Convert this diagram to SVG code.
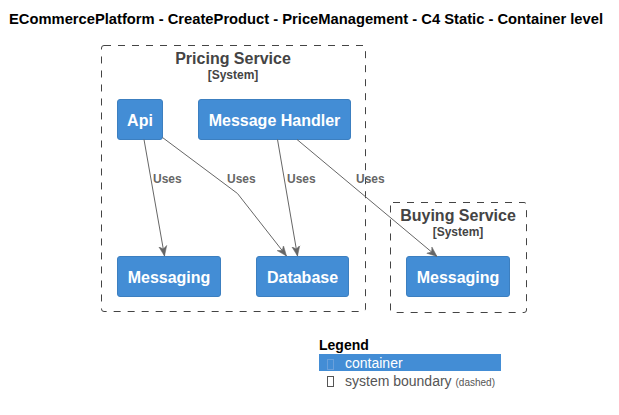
<svg xmlns="http://www.w3.org/2000/svg" width="619" height="415" viewBox="0 0 619 415">
<defs>
<style>
.title{font-family:"Liberation Sans",Arial,sans-serif;font-weight:bold;font-size:14px;fill:#000}
.bnd{fill:none;stroke:#444;stroke-width:1;stroke-dasharray:7,7}
.bname{font-family:"Liberation Sans",Arial,sans-serif;font-weight:bold;font-size:16px;fill:#444;text-anchor:middle}
.btype{font-family:"Liberation Sans",Arial,sans-serif;font-weight:bold;font-size:12px;fill:#444;text-anchor:middle}
.box{fill:#438DD5;stroke:#3C7FC0;stroke-width:1}
.bt{font-family:"Liberation Sans",Arial,sans-serif;font-weight:bold;font-size:16px;fill:#fff;text-anchor:middle}
.ln{fill:none;stroke:#666;stroke-width:1}
.lbl{font-family:"Liberation Sans",Arial,sans-serif;font-weight:bold;font-size:12px;fill:#666}
.lg{font-family:"Liberation Sans",Arial,sans-serif;font-size:14px}
</style>
<marker id="ah" viewBox="0 0 10 10" refX="10" refY="5" markerWidth="10" markerHeight="10" markerUnits="userSpaceOnUse" orient="auto">
<path d="M0,1 L10,5 L0,9 L3,5 Z" fill="#666" stroke="#666" stroke-width="0.5"/>
</marker>
</defs>
<rect width="619" height="415" fill="#fff"/>
<text class="title" x="9" y="24" textLength="594" lengthAdjust="spacingAndGlyphs">ECommercePlatform - CreateProduct - PriceManagement - C4 Static - Container level</text>

<g id="pricing-service">
<rect class="bnd" x="101.5" y="45.5" width="264" height="266" rx="2.5"/>
<text class="bname" x="233" y="64">Pricing Service</text>
<text class="btype" x="233" y="79">[System]</text>
</g>
<g id="buying-service">
<rect class="bnd" x="390.5" y="202.5" width="136" height="110" rx="2.5"/>
<text class="bname" x="458" y="221">Buying Service</text>
<text class="btype" x="458" y="236">[System]</text>
</g>

<g id="api">
<rect class="box" x="117.5" y="99.5" width="45" height="40" rx="2.5"/>
<text class="bt" x="140" y="126">Api</text>
</g>
<g id="message-handler">
<rect class="box" x="198.5" y="99.5" width="152" height="40" rx="2.5"/>
<text class="bt" x="274.5" y="126">Message Handler</text>
</g>
<g id="pricing-messaging">
<rect class="box" x="117.5" y="256.5" width="103" height="40" rx="2.5"/>
<text class="bt" x="169" y="283">Messaging</text>
</g>
<g id="database">
<rect class="box" x="256.5" y="256.5" width="92" height="40" rx="2.5"/>
<text class="bt" x="302.5" y="283">Database</text>
</g>
<g id="buying-messaging">
<rect class="box" x="406.5" y="256.5" width="103" height="40" rx="2.5"/>
<text class="bt" x="458" y="283">Messaging</text>
</g>

<g id="connectors">
<path class="ln" d="M144,139.5 L164.5,256" marker-end="url(#ah)"/>
<path class="ln" d="M162.5,137.5 L237.5,193.5 L286.5,256" marker-end="url(#ah)"/>
<path class="ln" d="M277.5,139.5 L297.5,256" marker-end="url(#ah)"/>
<path class="ln" d="M297,139.5 L437,256.5" marker-end="url(#ah)"/>
<text class="lbl" x="153" y="183">Uses</text>
<text class="lbl" x="227" y="183">Uses</text>
<text class="lbl" x="287" y="183">Uses</text>
<text class="lbl" x="356" y="183">Uses</text>
</g>

<g id="legend">
<text class="lg" x="319" y="350" font-weight="bold" fill="#000">Legend</text>
<rect x="319" y="354" width="182" height="17" fill="#438DD5"/>
<rect x="327.5" y="359.5" width="6" height="10" fill="none" stroke="#6aa0db" stroke-width="1"/>
<text class="lg" x="345" y="368" fill="#fff">container</text>
<rect x="327.5" y="376.5" width="6" height="10" fill="none" stroke="#555" stroke-width="1"/>
<text class="lg" x="345" y="386" fill="#555">system boundary <tspan font-size="10">(dashed)</tspan></text>
</g>
</svg>
